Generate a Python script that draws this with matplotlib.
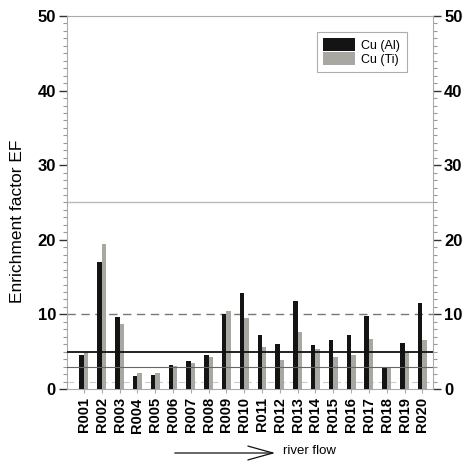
import numpy as np
import matplotlib
matplotlib.use("Agg")
import matplotlib.pyplot as plt
from matplotlib.patches import FancyArrowPatch
from matplotlib.ticker import MultipleLocator

plt.rcParams['font.family'] = ['Liberation Sans', 'DejaVu Sans']

sites = ["R%03d" % i for i in range(1, 21)]
cu_al = [4.5, 17.0, 9.7, 1.8, 1.9, 3.2, 3.7, 4.6, 10.1, 12.9,
         7.2, 6.0, 11.8, 5.9, 6.6, 7.3, 9.8, 3.0, 6.2, 11.5]
cu_ti = [4.9, 19.5, 8.7, 2.1, 2.1, 3.1, 3.5, 4.3, 10.4, 9.5,
         5.6, 3.9, 7.6, 5.4, 4.3, 4.6, 6.7, 3.0, 4.9, 6.6]

fig = plt.figure(figsize=(4.76, 4.61), dpi=100)
ax = fig.add_axes([67 / 476, 1 - 389 / 461, 366 / 476, 373 / 461])

x = np.arange(1, 21)
w = 0.25
ax.bar(x - w / 2, cu_al, w, color='#141414', label='Cu (Al)', zorder=3)
ax.bar(x + w / 2, cu_ti, w, color='#a9a7a2', label='Cu (Ti)', zorder=3)

# reference lines
ax.axhline(25, color='#bbbbbb', lw=1.0, zorder=1)
ax.axhline(10, color='#777777', lw=1.0, ls=(0, (6, 4)), zorder=1)
ax.axhline(5, color='#111111', lw=1.3, zorder=4)
ax.axhline(3, color='#666666', lw=0.8, zorder=4)
ax.axhline(1, color='#cccccc', lw=0.8, ls=(0, (6, 4)), zorder=1)

ax.set_xlim(0.05, 20.6)
ax.set_ylim(0, 50)
ax.set_xticks(x)
ax.set_xticklabels(sites, rotation=90, fontsize=10.5, fontweight='bold')
ax.tick_params(axis='x', length=3, color='#aaaaaa', pad=3)

ax.yaxis.set_major_locator(MultipleLocator(10))
ax.yaxis.set_minor_locator(MultipleLocator(1))
ax.tick_params(axis='y', which='major', length=6, width=1.0, color='#333333',
               labelsize=12, left=True, right=True, labelleft=True, labelright=True,
               pad=2)
ax.tick_params(axis='y', which='minor', length=3, width=0.8, color='#999999',
               left=True, right=True)
for t in ax.yaxis.get_major_ticks():
    t.label1.set_fontweight('bold')
    t.label2.set_fontweight('bold')

for s in ax.spines.values():
    s.set_color('#aaaaaa')
    s.set_linewidth(0.8)

ax.set_ylabel('Enrichment factor EF', fontsize=12.5)
ax.yaxis.set_label_coords(-0.115, 0.45)

leg = ax.legend(loc='upper left', bbox_to_anchor=(250 / 366, 1 - 16 / 373),
                fontsize=9, frameon=True, fancybox=False, edgecolor='#999999',
                handlelength=2.5, handleheight=1.25, borderpad=0.5,
                labelspacing=0.0, handletextpad=0.55, borderaxespad=0)
leg.get_frame().set_linewidth(0.8)

fig.patches.append(FancyArrowPatch(
    (172 / 476, 1 - 453 / 461), (278 / 476, 1 - 453 / 461),
    transform=fig.transFigure, arrowstyle='->,head_length=18,head_width=5',
    lw=0.9, color='#111111', mutation_scale=1))
fig.text(283 / 476, 1 - 451 / 461, 'river flow', fontsize=9.5, va='center')

fig.savefig('out.png', dpi=100, facecolor='white')
